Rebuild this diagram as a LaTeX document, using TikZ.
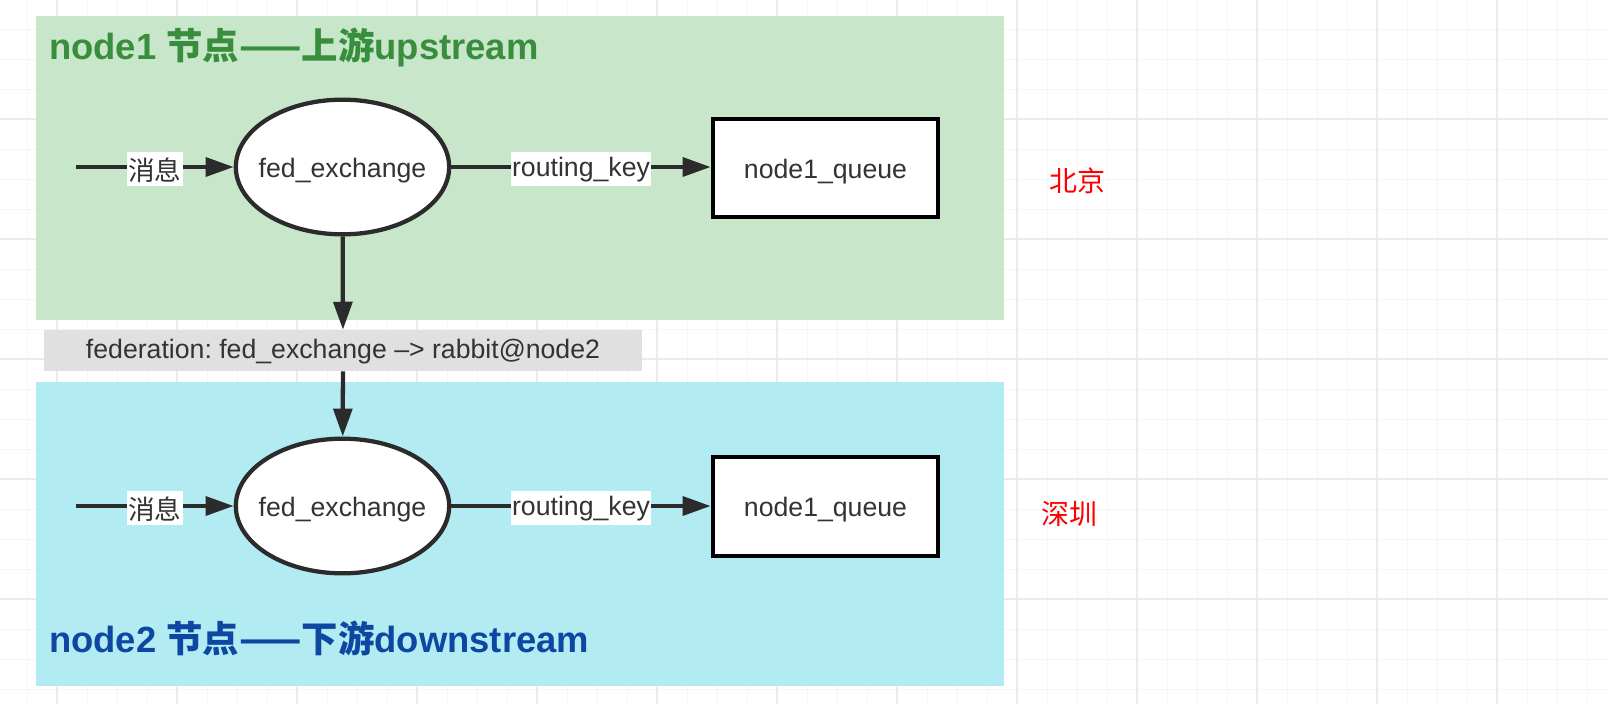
\documentclass[tikz,border=0pt]{standalone}
\usepackage{fontspec}
\setmainfont{Liberation Sans}
\newfontfamily\cjk{Noto Sans CJK SC}
\usetikzlibrary{shapes.geometric,arrows.meta}
\frenchspacing
\definecolor{gridminor}{HTML}{F5F5F5}
\definecolor{gridmajor}{HTML}{EBEBEB}
\definecolor{upfill}{HTML}{C8E6C9}
\definecolor{downfill}{HTML}{B2EBF2}
\definecolor{labelfill}{HTML}{E0E0E0}
\definecolor{linec}{HTML}{2B2B2B}
\definecolor{textc}{HTML}{333333}
\definecolor{upgreen}{HTML}{388E3C}
\definecolor{downblue}{HTML}{0D47A1}
\definecolor{cityred}{HTML}{FF0000}
\newcommand{\zw}[1]{\makebox[0pt][c]{#1}}
\tikzset{
  exch/.style={ellipse, draw=linec, line width=3.2pt, fill=white, text=textc,
    minimum width=160pt, minimum height=101pt, inner sep=0pt,
    text height=20pt, text depth=4.5pt, font=\fontsize{20}{24}\selectfont},
  queue/.style={rectangle, draw=black, line width=3.2pt, fill=white, text=textc,
    minimum width=169pt, minimum height=74pt, inner sep=0pt,
    text height=20pt, text depth=4.5pt, font=\fontsize{20}{24}\selectfont},
  arr/.style={draw=linec, line width=3.2pt, -{Triangle[length=21pt,width=14pt]}},
  lbl/.style={fill=white, text=textc, inner xsep=1pt, inner ysep=2.5pt, yshift=-1.5pt,
    text height=16pt, text depth=4.5pt, font=\fontsize{20}{24}\selectfont},
  lblc/.style={lbl, text height=19pt, text depth=1.5pt, font=\cjk\fontsize{20}{24}\selectfont},
  fedlbl/.style={fill=labelfill, text=textc, minimum width=448.5pt, minimum height=30.75pt,
    inner sep=0pt, text height=17pt, text depth=4.5pt, font=\fontsize{20}{24}\selectfont},
  title/.style={anchor=west, inner sep=0pt, font=\fontsize{27.3}{32}\selectfont\bfseries},
  city/.style={text=cityred, inner sep=0pt, font=\cjk\fontsize{21}{25}\selectfont}
}
\begin{document}
\begin{tikzpicture}[x=0.75pt,y=-0.75pt]
\useasboundingbox (0,0) rectangle (1608,704);
\fill[white] (0,0) rectangle (1608,704);
% grid
\foreach \x in {27,57,...,1607} \draw[gridminor, line width=0.75pt] (\x,0) -- (\x,704);
\foreach \y in {29,59,...,703} \draw[gridminor, line width=0.75pt] (0,\y) -- (1608,\y);
\foreach \x in {57,177,...,1607} \draw[gridmajor, line width=0.8pt] (\x,0) -- (\x,704);
\foreach \y in {119,239,...,703} \draw[gridmajor, line width=0.8pt] (0,\y) -- (1608,\y);
% areas
\fill[upfill] (36,16) rectangle (1004,320);
\fill[downfill] (36,382) rectangle (1004,686);
\node[title, text=upgreen] (t1) at (49,47) {node1 {\cjk 节点——上游}upstream};
\node[title, text=downblue] (t2) at (49,638) {node2 {\cjk 节点——下游}downstream};
% upper row
\node[exch] (e1) at (342.5,167) {\zw{fed\_exchange}};
\node[queue] (q1) at (825.5,168) {node1\_queue};
\coordinate (s1) at (76,167);
\draw[arr] (s1) -- node[lblc] (m1) {消息} (e1);
\draw[arr] (e1) -- node[lbl] (r1) {routing\_key} (q1.west |- e1);
% lower row
\node[exch] (e2) at (342.5,506) {\zw{fed\_exchange}};
\node[queue] (q2) at (825.5,506.5) {node1\_queue};
\coordinate (s2) at (76,506);
\draw[arr] (s2) -- node[lblc] (m2) {消息} (e2);
\draw[arr] (e2) -- node[lbl] (r2) {routing\_key} (q2.west |- e2);
% federation
\node[fedlbl] (fed) at (343,350.5) {federation: fed\_exchange –> rabbit@node2};
\draw[arr] (e1) -- (fed);
\draw[arr] (fed) -- (e2);
% cities
\node[city] (bj) at (1077,181) {北京};
\node[city] (sz) at (1069,514) {深圳};
\end{tikzpicture}
\end{document}
